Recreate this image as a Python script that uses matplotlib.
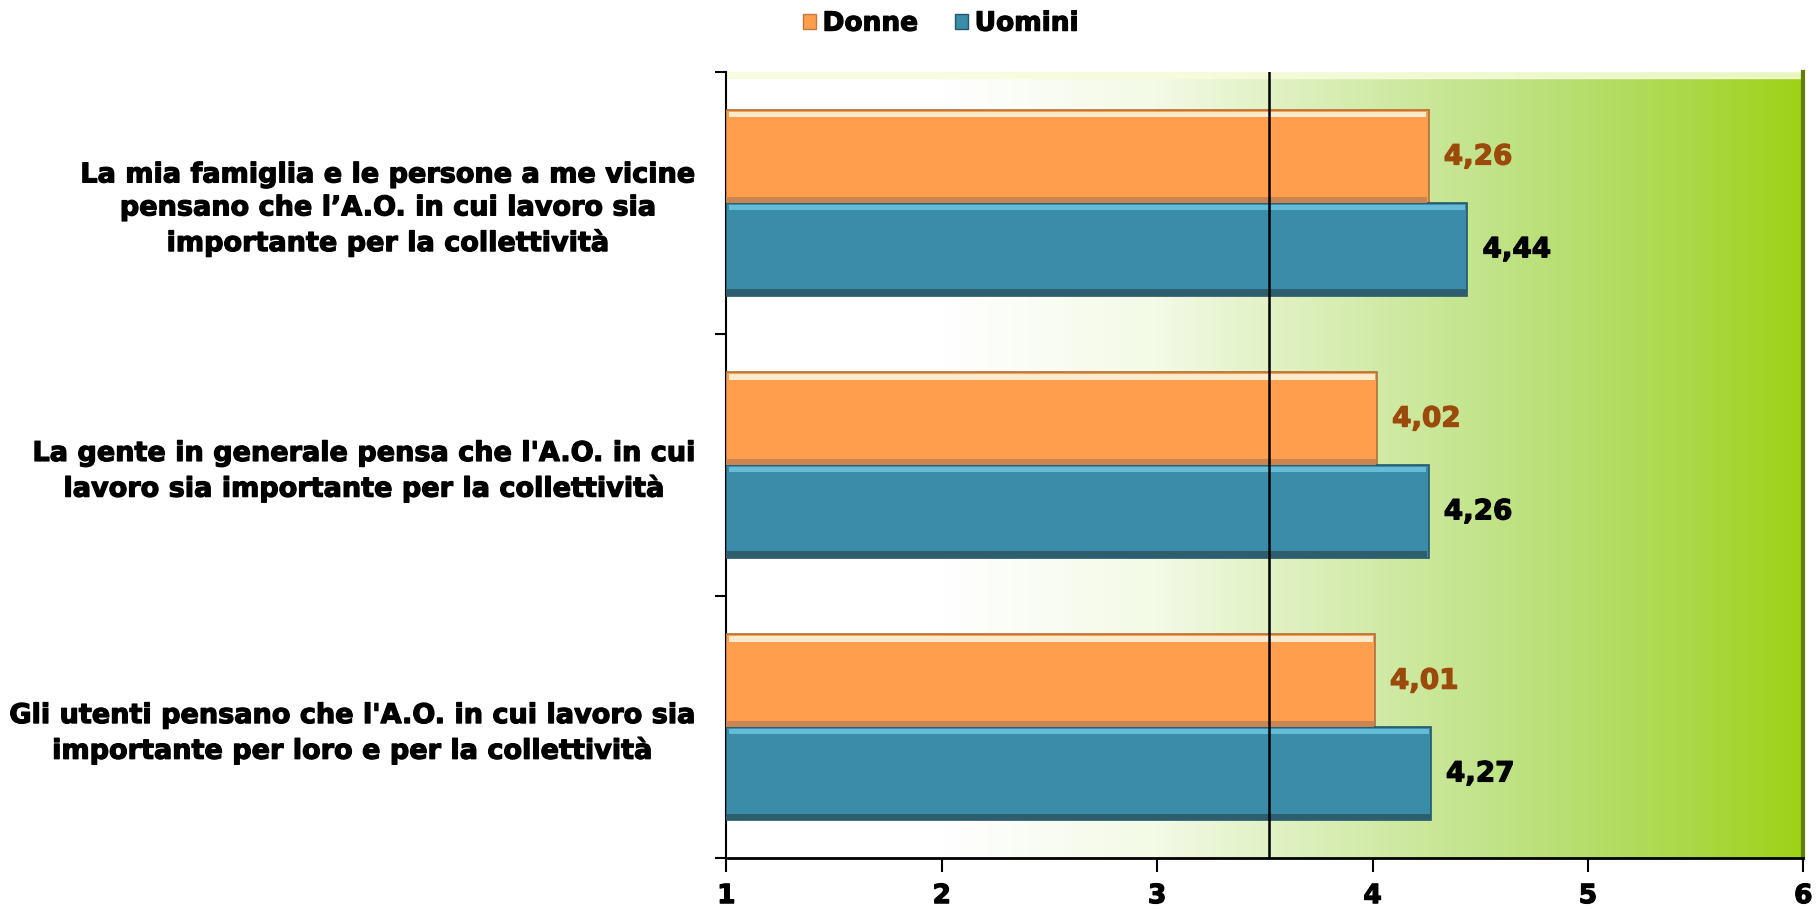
import numpy as np
import matplotlib
matplotlib.use("Agg")
import matplotlib.pyplot as plt
import matplotlib.patheffects as pe
from matplotlib.colors import LinearSegmentedColormap
from matplotlib.patches import Patch

# dati (dall'alto verso il basso)
categorie = [
    "La mia famiglia e le persone a me vicine\npensano che l\u2019A.O. in cui lavoro sia\nimportante per la collettività",
    "La gente in generale pensa che l'A.O. in cui\nlavoro sia importante per la collettività",
    "Gli utenti pensano che l'A.O. in cui lavoro sia\nimportante per loro e per la collettività",
]
donne = [4.26, 4.02, 4.01]
uomini = [4.44, 4.26, 4.27]
serie = ["Donne", "Uomini"]
x_ticks = [1, 2, 3, 4, 5, 6]
linea_rif = 3.52

plt.rcParams['font.family'] = ['DejaVu Sans']
plt.rcParams['font.weight'] = 'bold'

col_donne = "#FF9E4C"
col_uomini = "#3A8CA8"


def grassetto(colore):
    # testo un po' più pesante, come nel grafico originale
    return [pe.withStroke(linewidth=0.9, foreground=colore)]


fig = plt.figure(figsize=(18.16, 9.09), dpi=100)
ax = fig.add_axes([0.400, 0.056, 0.593, 0.865])

n = len(categorie)
y = np.arange(n)[::-1].astype(float)
h = 0.354
y_d = y + h / 2
y_u = y - h / 2

# sfondo sfumato bianco -> verde
stops = [(0.0, "#FFFFFF"), (0.2, "#FFFFFF"), (0.4, "#F3FAE6"), (0.5, "#E2F2C6"),
         (0.6, "#D2EBA9"), (0.7, "#C3E48C"), (0.8, "#B5DE6C"), (0.9, "#AAD846"),
         (1.0, "#9ED217")]
cmap = LinearSegmentedColormap.from_list("sfondo", stops)
grad = np.linspace(0, 1, 512).reshape(1, -1)
ax.imshow(grad, cmap=cmap, aspect="auto", extent=[1, 6, -0.5, n - 0.5],
          zorder=0, interpolation="bicubic")
# bordo superiore chiaro
ax.axhspan(n - 0.5 - 0.025, n - 0.5, color="#F8FCDC", alpha=0.85, zorder=1)

# barre con effetto rilievo
ax.barh(y_d, np.array(donne) - 1, left=1, height=h, color=col_donne,
        edgecolor="#B0703A", linewidth=1.2, zorder=3)
ax.barh(y_u, np.array(uomini) - 1, left=1, height=h, color=col_uomini,
        edgecolor="#24586A", linewidth=1.2, zorder=3)
ax.barh(y_d + h / 2 - 0.018, np.array(donne) - 1.02, left=1.01, height=0.02,
        color="#FFEBCB", zorder=4)
ax.barh(y_u + h / 2 - 0.018, np.array(uomini) - 1.02, left=1.01, height=0.02,
        color="#64BCD7", zorder=4)
ax.barh(y_d - h / 2 + 0.012, np.array(donne) - 1.005, left=1.0, height=0.024,
        color="#C98451", zorder=4)
ax.barh(y_u - h / 2 + 0.012, np.array(uomini) - 1.005, left=1.0, height=0.024,
        color="#2C5E6E", zorder=4)

# etichette dei valori
for yy, v in zip(y_d, donne):
    ax.annotate(f"{v:.2f}".replace(".", ","), (v, yy), xytext=(11, 0),
                textcoords="offset points", va="center", ha="left",
                fontsize=20, fontweight="bold", color="#9C4A0B", zorder=5,
                path_effects=grassetto("#9C4A0B"))
for yy, v in zip(y_u, uomini):
    ax.annotate(f"{v:.2f}".replace(".", ","), (v, yy), xytext=(11, 0),
                textcoords="offset points", va="center", ha="left",
                fontsize=20, fontweight="bold", color="black", zorder=5,
                path_effects=grassetto("black"))

# linea verticale di riferimento
ax.axvline(linea_rif, color="black", linewidth=1.8, zorder=6)

ax.set_xlim(1, 6)
ax.set_ylim(-0.5, n - 0.5)
ax.set_xticks(x_ticks)
ax.set_xticklabels([str(t) for t in x_ticks], fontsize=19, fontweight="bold")
ax.tick_params(axis="x", direction="out", length=10, width=1.5, pad=8)
for lab in ax.get_xticklabels():
    lab.set_path_effects(grassetto("black"))

ax.set_yticks(y)
ax.set_yticklabels(categorie, fontsize=19.5, fontweight="bold")
ax.set_yticks(np.arange(-0.5, n, 1.0), minor=True)
ax.tick_params(axis="y", which="major", length=0, pad=22)
ax.tick_params(axis="y", which="minor", direction="out", length=8, width=1.5)
for lab in ax.get_yticklabels():
    lab.set_multialignment("center")
    lab.set_linespacing(1.35)
    lab.set_path_effects(grassetto("black"))

ax.spines["top"].set_visible(False)
ax.spines["right"].set_color("#5E7F00")
ax.spines["right"].set_linewidth(3)
ax.spines["left"].set_linewidth(1.5)
ax.spines["bottom"].set_linewidth(2)

handles = [Patch(facecolor=col_donne, edgecolor="#C07A40"),
           Patch(facecolor=col_uomini, edgecolor="#24586A")]
leg = fig.legend(handles, serie, loc="center", bbox_to_anchor=(0.518, 0.974), ncol=2,
                 frameon=False, prop={"size": 19, "weight": "bold"},
                 handlelength=0.5, handleheight=0.5, handletextpad=0.25,
                 columnspacing=1.4)
for t in leg.get_texts():
    t.set_path_effects(grassetto("black"))

fig.savefig("out.png", dpi=100)
